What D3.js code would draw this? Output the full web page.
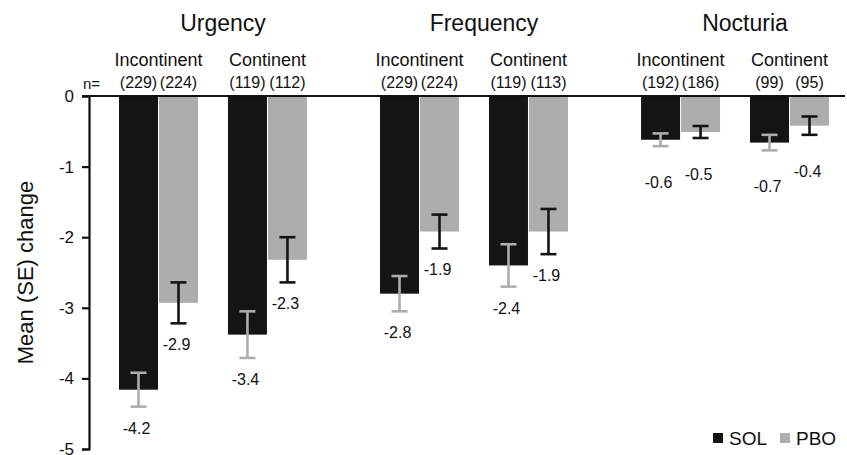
<!DOCTYPE html>
<html>
<head>
<meta charset="utf-8">
<script src="https://cdn.jsdelivr.net/npm/d3@7/dist/d3.min.js"></script>
<style>
  html, body { margin: 0; padding: 0; background: #fff; }
  svg { display: block; font-family: "Liberation Sans", Arial, Helvetica, sans-serif; }
</style>
</head>
<body>
<svg id="chart" width="847" height="455"></svg>
<script>
// Outcome measures, patient subgroups and treatment arms
const measures = ["Urgency", "Frequency", "Nocturia"];
const subgroups = ["Incontinent", "Continent"];
const arms = ["SOL", "PBO"];

// Mean change from baseline, one entry per measure × subgroup (Urgency Inc, Urgency Cont, Frequency Inc, ...)
const solMean = [-4.16, -3.38, -2.80, -2.40, -0.62, -0.66];
const pboMean = [-2.93, -2.32, -1.92, -1.92, -0.51, -0.42];
// Standard errors
const solSE = [0.24, 0.33, 0.25, 0.30, 0.09, 0.11];
const pboSE = [0.29, 0.32, 0.24, 0.32, 0.085, 0.13];
// Sample sizes
const solN = [229, 119, 229, 119, 192, 99];
const pboN = [224, 112, 224, 113, 186, 95];

// Y axis ticks
const yTicks = [0, -1, -2, -3, -4, -5];

const colors = { SOL: "#141414", PBO: "#adadad" };
const errColors = { SOL: "#adadad", PBO: "#141414" };

// Flatten into rows for drawing
const rows = [];
measures.forEach((m, mi) => {
  subgroups.forEach((s, si) => {
    const k = mi * subgroups.length + si;
    rows.push({ measure: m, subgroup: s, arm: "SOL", mean: solMean[k], se: solSE[k], n: solN[k] });
    rows.push({ measure: m, subgroup: s, arm: "PBO", mean: pboMean[k], se: pboSE[k], n: pboN[k] });
  });
});

const svg = d3.select("#chart");

// Plain hyphen for negative numbers
const locale = d3.formatLocale({ decimal: ".", thousands: ",", grouping: [3], currency: ["", ""], minus: "-" });
const fmt1 = locale.format(".1f");
const fmt0 = locale.format("d");

const y = d3.scaleLinear().domain([0, -5]).range([96, 449]);

const x0 = d3.scaleBand().domain(measures).range([119, 829]).paddingInner(0.28).paddingOuter(0);
const x1 = d3.scaleBand().domain(subgroups).range([0, x0.bandwidth()]).paddingInner(0.275).paddingOuter(0);
const x2 = d3.scaleBand().domain(arms).range([0, x1.bandwidth()]).paddingInner(0.025).paddingOuter(0);

const barX = d => x0(d.measure) + x1(d.subgroup) + x2(d.arm);
const barC = d => barX(d) + x2.bandwidth() / 2;

// Space between the lower error cap and its value label
const labelGap = { Urgency: 27, Frequency: 27, Nocturia: 42 };

// Bars
svg.append("g").selectAll("rect").data(rows).join("rect")
  .attr("x", barX)
  .attr("y", y(0))
  .attr("width", x2.bandwidth())
  .attr("height", d => y(d.mean) - y(0))
  .attr("fill", d => colors[d.arm]);

// Error bars
const eb = svg.append("g").selectAll("g").data(rows).join("g")
  .attr("stroke", d => errColors[d.arm])
  .attr("stroke-width", 2.6);
eb.append("line")
  .attr("x1", barC).attr("x2", barC)
  .attr("y1", d => y(d.mean + d.se)).attr("y2", d => y(d.mean - d.se));
eb.append("line")
  .attr("x1", d => barC(d) - 8).attr("x2", d => barC(d) + 8)
  .attr("y1", d => y(d.mean + d.se)).attr("y2", d => y(d.mean + d.se));
eb.append("line")
  .attr("x1", d => barC(d) - 8).attr("x2", d => barC(d) + 8)
  .attr("y1", d => y(d.mean - d.se)).attr("y2", d => y(d.mean - d.se));

// Value labels
svg.append("g").selectAll("text").data(rows).join("text")
  .attr("x", d => barC(d) - 2)
  .attr("y", d => y(d.mean - d.se) + labelGap[d.measure])
  .attr("text-anchor", "middle")
  .attr("font-size", 16)
  .attr("fill", "#111")
  .text(d => fmt1(d.mean));

// Y axis
const yAxis = d3.axisLeft(y).tickValues(yTicks).tickFormat(fmt0).tickSize(7).tickPadding(8);
const ga = svg.append("g").attr("transform", "translate(89,0)").call(yAxis);
ga.select(".domain").attr("stroke", "#111").attr("stroke-width", 2.2);
ga.selectAll(".tick line").attr("stroke", "#111").attr("stroke-width", 2.2);
ga.selectAll(".tick text").attr("font-size", 17).attr("fill", "#111")
  .attr("font-family", "'Liberation Sans', Arial, sans-serif");

// Zero baseline
svg.append("line")
  .attr("x1", 82).attr("x2", 845)
  .attr("y1", y(0)).attr("y2", y(0))
  .attr("stroke", "#111").attr("stroke-width", 2.2);

// Y axis title
svg.append("text")
  .attr("transform", `translate(33,${(y(0) + y(-5)) / 2}) rotate(-90)`)
  .attr("text-anchor", "middle")
  .attr("font-size", 22)
  .attr("fill", "#111")
  .text("Mean (SE) change");

// Measure headers
svg.append("g").selectAll("text").data(measures).join("text")
  .attr("x", m => x0(m) + x0.bandwidth() / 2 + 10)
  .attr("y", 31)
  .attr("text-anchor", "middle")
  .attr("font-size", 23)
  .attr("fill", "#111")
  .text(m => m);

// Subgroup headers
const subRows = [];
measures.forEach(m => subgroups.forEach(s => subRows.push({ measure: m, subgroup: s })));
svg.append("g").selectAll("text").data(subRows).join("text")
  .attr("x", d => x0(d.measure) + x1(d.subgroup) + x1.bandwidth() / 2)
  .attr("y", 66)
  .attr("text-anchor", "middle")
  .attr("font-size", 18)
  .attr("fill", "#111")
  .text(d => d.subgroup);

// Sample sizes
svg.append("g").selectAll("text").data(rows).join("text")
  .attr("x", barC)
  .attr("y", 88)
  .attr("text-anchor", "middle")
  .attr("font-size", 16)
  .attr("fill", "#111")
  .text(d => `(${d.n})`);

svg.append("text")
  .attr("x", 83).attr("y", 89)
  .attr("font-size", 15)
  .attr("fill", "#111")
  .text("n=");

// Legend
const legend = svg.append("g").attr("transform", "translate(713,433)");
const legendX = { SOL: 0, PBO: 67 };
arms.forEach(a => {
  const g = legend.append("g").attr("transform", `translate(${legendX[a]},0)`);
  g.append("rect").attr("width", 10).attr("height", 10).attr("fill", colors[a]);
  g.append("text").attr("x", 16).attr("y", 12).attr("font-size", 19).attr("fill", "#111").text(a);
});
</script>
</body>
</html>
